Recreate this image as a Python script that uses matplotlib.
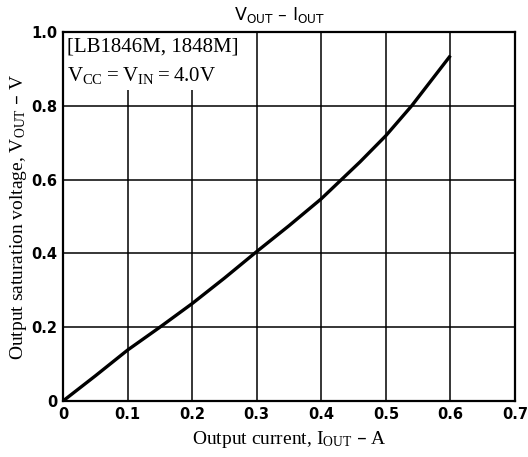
import matplotlib
matplotlib.use("Agg")
import matplotlib.pyplot as plt

# Data
i_out = [0, 0.05, 0.1, 0.15, 0.2, 0.25, 0.3, 0.35, 0.4, 0.46, 0.5, 0.54, 0.6]
v_out = [0, 0.068, 0.138, 0.2, 0.264, 0.333, 0.405, 0.475, 0.548, 0.648, 0.719, 0.8, 0.936]
x_ticks = [0, 0.1, 0.2, 0.3, 0.4, 0.5, 0.6, 0.7]
x_tick_labels = ["0", "0.1", "0.2", "0.3", "0.4", "0.5", "0.6", "0.7"]
y_ticks = [0, 0.2, 0.4, 0.6, 0.8, 1.0]
y_tick_labels = ["0", "0.2", "0.4", "0.6", "0.8", "1.0"]

SERIF = ["Liberation Serif", "DejaVu Serif"]
SANS = ["DejaVu Sans"]

fig = plt.figure(figsize=(5.28, 4.57), dpi=100)
ax = fig.add_axes([63 / 528, 1 - 401 / 457, (515 - 63) / 528, (401 - 32) / 457])

ax.set_xlim(0, 0.7)
ax.set_ylim(0, 1.0)
ax.set_xticks(x_ticks)
ax.set_xticklabels(x_tick_labels, fontweight="bold", fontsize=10.5, family=SANS)
ax.set_yticks(y_ticks)
ax.set_yticklabels(y_tick_labels, fontweight="bold", fontsize=10.5, family=SANS)
ax.tick_params(length=0, pad=4)
ax.grid(True, color="black", linewidth=1.1)
ax.set_axisbelow(True)
for s in ax.spines.values():
    s.set_linewidth(1.6)
    s.set_color("black")
    s.set_zorder(6)

ax.plot(i_out, v_out, color="black", linewidth=2.4, solid_capstyle="butt", zorder=3)

ax.text(0.008, 0.985, "[LB1846M, 1848M]\n$\\mathregular{V_{CC}=V_{IN}=4.0V}$",
        transform=ax.transAxes, ha="left", va="top", fontsize=15, family=SERIF,
        linespacing=1.5,
        bbox=dict(facecolor="white", edgecolor="none", pad=3), zorder=4)

fig.text(280 / 528, 1 - 15 / 457, "$\\mathregular{V_{OUT}}$ – $\\mathregular{I_{OUT}}$",
         ha="center", va="center", fontsize=12.5, family=SANS)

ax.set_xlabel("Output current, $\\mathregular{I_{OUT}}$ – A", fontsize=14, family=SERIF, labelpad=5)
ax.set_ylabel("Output saturation voltage, $\\mathregular{V_{OUT}}$ – V", fontsize=14, family=SERIF, labelpad=2)

fig.savefig("out.png", dpi=100)
